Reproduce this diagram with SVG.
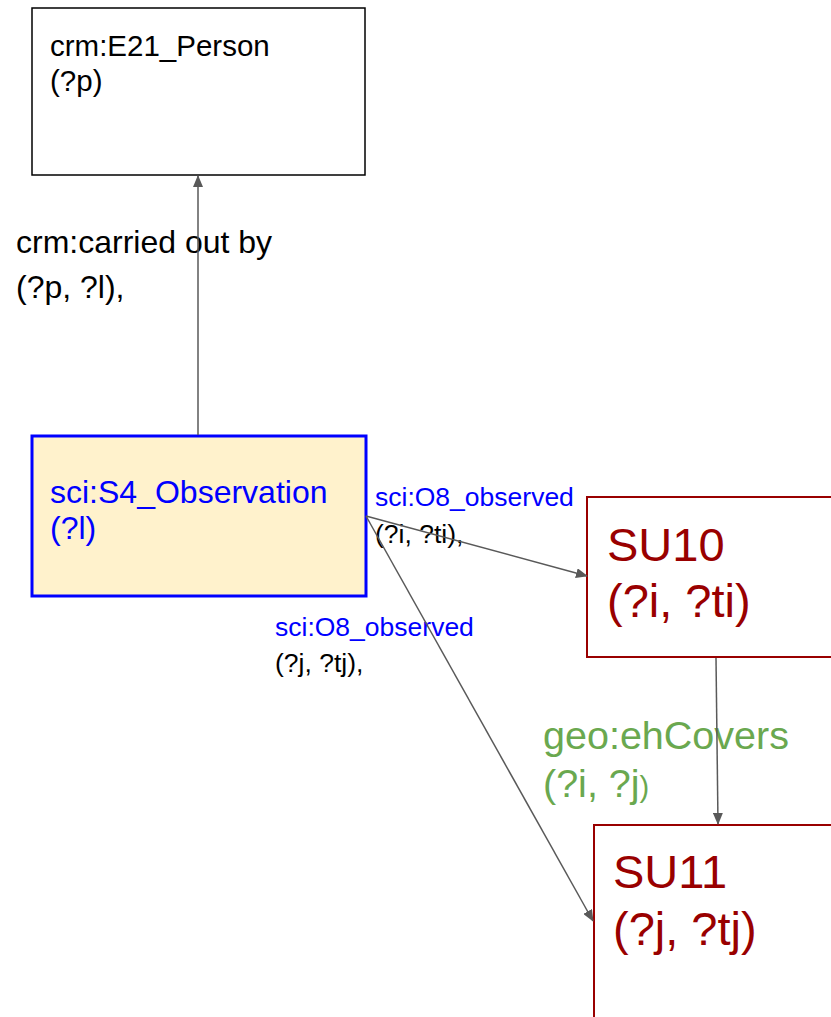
<svg xmlns="http://www.w3.org/2000/svg" width="831" height="1017" viewBox="0 0 831 1017">
<style>
text{font-family:"Liberation Sans",Arial,sans-serif}
.main{font-size:32px}
.big{font-size:47px;fill:#990000}
.lbl{font-size:26.5px}
.blue{fill:#0000ff}
.green{fill:#6aa84f;font-size:39.5px}
.conn{stroke:#595959;stroke-width:1.5;fill:none}
</style>
<defs>
<marker id="ah" markerWidth="12" markerHeight="10" refX="11" refY="5" orient="auto" markerUnits="userSpaceOnUse">
<path d="M0,0 L12,5 L0,10 Z" fill="#595959"/>
</marker>
</defs>
<rect width="831" height="1017" fill="#ffffff"/>
<g id="person">
<rect x="32" y="8" width="333" height="167" fill="#ffffff" stroke="#000000" stroke-width="1.5"/>
<text x="50" y="56" style="font-size:29.5px">crm:E21_Person</text>
<text x="50" y="91" style="font-size:29.5px">(?p)</text>
</g>
<g id="observation">
<rect x="32" y="436" width="334" height="160" fill="#fff2cc" stroke="#0000ff" stroke-width="3"/>
<text class="main blue" x="50" y="503">sci:S4_Observation</text>
<text class="main blue" x="50" y="539">(?l)</text>
</g>
<g id="su10">
<rect x="587" y="497" width="260" height="160" fill="#ffffff" stroke="#990000" stroke-width="2"/>
<text class="big" x="607" y="561">SU10</text>
<text class="big" x="607" y="617">(?i, ?ti)</text>
</g>
<g id="su11">
<rect x="594" y="825" width="260" height="210" fill="#ffffff" stroke="#990000" stroke-width="2"/>
<text class="big" x="613" y="888">SU11</text>
<text class="big" x="613" y="945">(?j, ?tj)</text>
</g>
<g id="labels">
<text class="main" x="16" y="253">crm:carried out by</text>
<text class="main" x="16" y="298">(?p, ?l),</text>
<text class="lbl blue" x="375" y="506">sci:O8_observed</text>
<text class="lbl" x="375" y="543">(?i, ?ti),</text>
<text class="lbl blue" x="275" y="636">sci:O8_observed</text>
<text class="lbl" x="275" y="672">(?j, ?tj),</text>
<text class="green" x="543" y="749">geo:ehCovers</text>
<text class="green" x="543" y="797">(?i, ?j<tspan style="font-size:29px">)</tspan></text>
</g>
<g id="connectors">
<line class="conn" x1="198" y1="435" x2="198" y2="176" marker-end="url(#ah)"/>
<line class="conn" x1="366" y1="516" x2="587" y2="576" marker-end="url(#ah)"/>
<line class="conn" x1="366" y1="516" x2="593" y2="921" marker-end="url(#ah)"/>
<line class="conn" x1="716" y1="658" x2="718" y2="824" marker-end="url(#ah)"/>
</g>
</svg>
